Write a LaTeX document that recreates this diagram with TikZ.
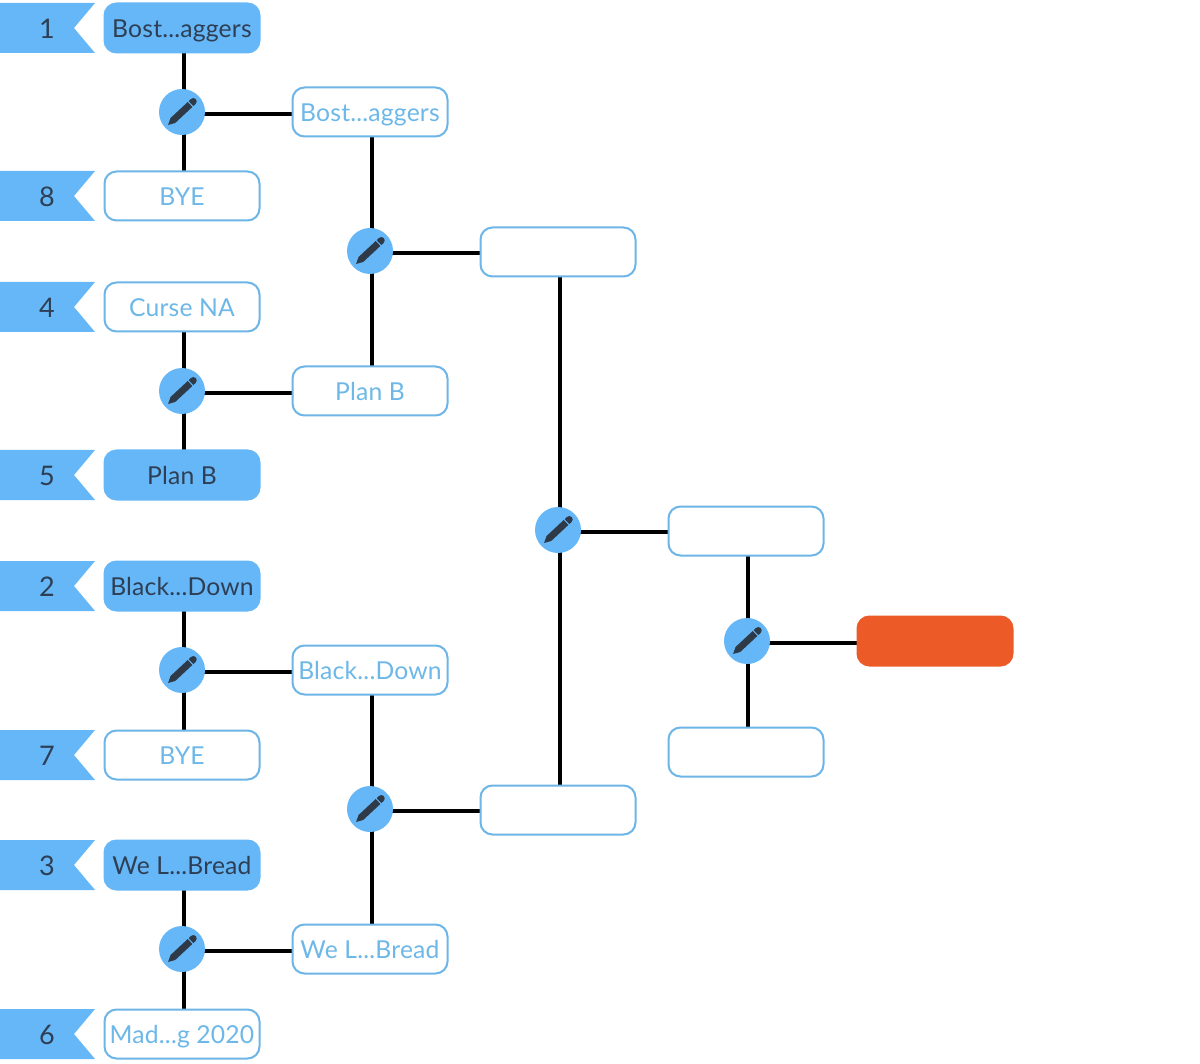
\documentclass[tikz,border=0pt]{standalone}
\usepackage{fontspec}
\setmainfont[LetterSpace=0.8]{Lato}
\usetikzlibrary{backgrounds,calc}
\definecolor{bsky}{HTML}{66B7F7}
\definecolor{bedge}{HTML}{6DB5E6}
\definecolor{btext}{HTML}{6DB8E8}
\definecolor{ink}{HTML}{2E3F55}
\definecolor{pen}{HTML}{2F3A48}
\definecolor{flame}{HTML}{EC5A28}
\tikzset{
 slot/.style={rounded corners=12pt,minimum width=155pt,minimum height=49pt,inner sep=0pt,text height=19pt,text depth=0pt,font=\fontsize{24.7}{24.7}\selectfont},
 open/.style={slot,draw=bedge,line width=2pt,fill=white,text=btext},
 won/.style={slot,fill=bsky,draw=bsky,line width=2pt,text=ink},
 final/.style={slot,fill=flame,draw=flame,line width=2pt},
 seed/.style={font=\fontsize{27}{27}\selectfont,text=ink,inner sep=0pt},
 ribbon/.style={fill=bsky},
 disc/.style={circle,fill=bsky,minimum size=46pt,inner sep=0pt},
 wire/.style={line width=4.4pt,black},
}
\newcommand{\seedflag}[3]{%
 \fill[ribbon] (0,#2-25) -- (95,#2-25) -- (74,#2) -- (95,#2+25) -- (0,#2+25) -- cycle;
 \node[seed] (#1) at (47,#2+1) {#3};}
\newcommand{\matchdisc}[3]{%
 \node[disc] (#1) at (#2,#3) {};
 \begin{scope}[shift={(#2,#3)},rotate=43]
  \fill[pen] (-19,0) -- (-12.5,-3.4) -- (11,-3.4) -- (11,3.4) -- (-12.5,3.4) -- cycle;
  \fill[pen] (12.3,-3.4) -- (15.5,-3.4) arc[start angle=-90,end angle=90,radius=3.4] -- (12.3,3.4) -- cycle;
 \end{scope}}
\begin{document}
\begin{tikzpicture}[x=1pt,y=-1pt]
\useasboundingbox (0,0) rectangle (1200,1064);
\seedflag{s1}{28}{1}
\seedflag{s8}{196}{8}
\seedflag{s4}{307}{4}
\seedflag{s5}{475}{5}
\seedflag{s2}{586}{2}
\seedflag{s7}{755}{7}
\seedflag{s3}{865}{3}
\seedflag{s6}{1034}{6}
\node[won]  (a1) at (182,28) {Bost...aggers};
\node[open] (a8) at (182,196) {BYE};
\node[open] (a4) at (182,307) {Curse NA};
\node[won]  (a5) at (182,475) {Plan B};
\node[won]  (a2) at (182,586) {Black...Down};
\node[open] (a7) at (182,755) {BYE};
\node[won]  (a3) at (182,865) {We L...Bread};
\node[open] (a6) at (182,1034) {Mad...g 2020};
\node[open] (b1) at (370,112) {Bost...aggers};
\node[open] (b2) at (370,391) {Plan B};
\node[open] (b3) at (370,670) {Black...Down};
\node[open] (b4) at (370,949) {We L...Bread};
\node[open] (c1) at (558,252) {};
\node[open] (c2) at (558,810) {};
\node[open] (d1) at (746,531) {};
\node[open] (d2) at (746,752) {};
\node[final] (e1) at (935,641) {};
\matchdisc{m1}{182}{112}
\matchdisc{m2}{182}{391}
\matchdisc{m3}{182}{670}
\matchdisc{m4}{182}{949}
\matchdisc{m5}{370}{251}
\matchdisc{m6}{370}{809}
\matchdisc{m7}{558}{530}
\matchdisc{m8}{747}{641}
\begin{scope}[on background layer]
\foreach \p/\q in {a1/m1,a8/m1,a4/m2,a5/m2,a2/m3,a7/m3,a3/m4,a6/m4,b1/m5,b2/m5,b3/m6,b4/m6,c1/m7,c2/m7,d1/m8,d2/m8}
 \draw[wire] ([xshift=2pt]\p.center) -- ([xshift=2pt]\p.center |- \q.center);
\foreach \q/\r in {m1/b1,m2/b2,m3/b3,m4/b4,m5/c1,m6/c2,m7/d1,m8/e1}
 \draw[wire] ([yshift=-2pt]\q.center) -- ([yshift=-2pt]\q.center -| \r.center);
\end{scope}
\end{tikzpicture}
\end{document}
